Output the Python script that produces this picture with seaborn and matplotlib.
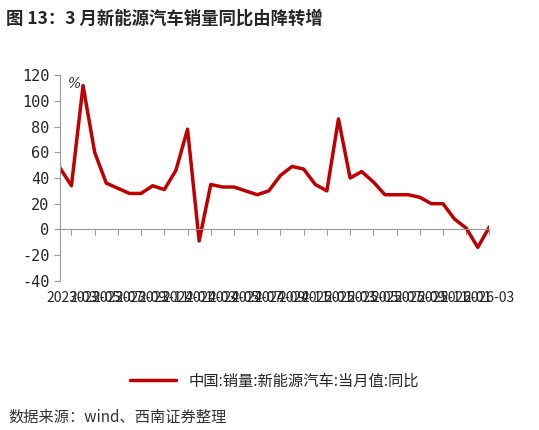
import matplotlib
matplotlib.use("Agg")
import matplotlib.pyplot as plt
import seaborn as sns
import pandas as pd
import numpy as np

sns.set_style("white")
plt.rcParams['font.family'] = ['Noto Sans CJK SC', 'DejaVu Sans']

values = [48,34,112,60,36,32,28,28,34,31,46,78,-9,35,33,33,30,27,30,42,49,47,35,30,86,40,45,37,27,27,27,25,20,20,8,1,-14,2]
months = pd.period_range("2023-02", periods=len(values), freq="M").strftime("%Y-%m").tolist()
df = pd.DataFrame({"idx": np.arange(len(values)), "v": values})

fig = plt.figure(figsize=(5.39, 4.30), dpi=100)
ax = fig.add_axes([0.111, 0.347, 0.797, 0.478])
sns.lineplot(data=df, x="idx", y="v", ax=ax, color="#C00000", lw=2.5, label="中国:销量:新能源汽车:当月值:同比")
ax.set_xlim(0, len(values)-1)
ax.set_ylim(-40, 120)
ax.set_yticks(range(-40, 121, 20))
ax.set_yticklabels([str(t) for t in range(-40, 121, 20)], family='DejaVu Sans Mono', fontsize=11)
tick_idx = list(range(1, len(values), 2))
ax.set_xticks(tick_idx)
ax.set_xticklabels([months[i] for i in tick_idx], family='DejaVu Sans Mono', fontsize=10.5)
plt.setp(ax.get_xticklabels(), rotation=90, ha="center", va="top")
for s in ["top", "right"]:
    ax.spines[s].set_visible(False)
ax.spines["bottom"].set_position(("data", 0))
ax.spines["left"].set_color("#999999")
ax.spines["bottom"].set_color("#999999")
ax.tick_params(axis="both", length=4, color="#999999", direction="out", left=True, bottom=True)
ax.tick_params(axis="x", pad=40)
ax.set_xlabel(""); ax.set_ylabel("")
ax.text(0.02, 0.99, "%", transform=ax.transAxes, fontsize=10, family='DejaVu Serif', style='italic', va='top')
leg = ax.legend(loc="upper center", bbox_to_anchor=(0.5, -0.38), frameon=False, fontsize=11, handlelength=3)
fig.text(0.012, 0.945, "图 13：3 月新能源汽车销量同比由降转增", fontsize=12.5, fontweight="bold")
fig.text(0.015, 0.018, "数据来源：wind、西南证券整理", fontsize=11, style="italic", color="#333333")
fig.savefig("out.png", dpi=100)
